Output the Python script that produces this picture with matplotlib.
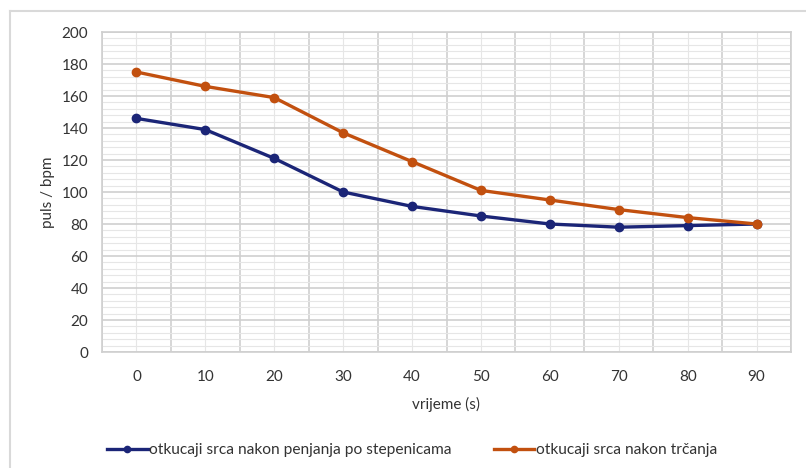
import matplotlib
matplotlib.use("Agg")
import matplotlib.pyplot as plt
from matplotlib.lines import Line2D
from matplotlib.ticker import MultipleLocator, FixedLocator

plt.rcParams['font.family'] = ['Lato', 'DejaVu Sans']

categories = ['0', '10', '20', '30', '40', '50', '60', '70', '80', '90']
stairs = [146, 139, 121, 100, 91, 85, 80, 78, 79, 80]
running = [175, 166, 159, 137, 119, 101, 95, 89, 84, 80]
labels = ['otkucaji srca nakon penjanja po stepenicama', 'otkucaji srca nakon trčanja']

W, H = 806, 468
fig = plt.figure(figsize=(W / 100, H / 100), dpi=100)
ax = fig.add_axes([102 / W, 1 - 352 / H, (791 - 102) / W, (352 - 32) / H])

x = list(range(len(categories)))
blue = '#1B2577'
orange = '#C2500F'
ax.plot(x, stairs, color=blue, lw=2.4, marker='o', ms=6, label=labels[0], zorder=3)
ax.plot(x, running, color=orange, lw=2.4, marker='o', ms=6, label=labels[1], zorder=3)

ax.set_xlim(-0.5, len(categories) - 0.5)
ax.set_ylim(0, 200)
ax.set_xticks(x)
ax.set_xticklabels(categories)
ax.yaxis.set_major_locator(MultipleLocator(20))
ax.yaxis.set_minor_locator(MultipleLocator(4))
ax.xaxis.set_minor_locator(FixedLocator([i - 0.5 for i in range(len(categories) + 1)]))

ax.grid(which='major', axis='y', color='#CFCFCF', lw=1.2)
ax.grid(which='minor', axis='y', color='#E6E6E6', lw=0.8)
ax.grid(which='minor', axis='x', color='#CFCFCF', lw=1.2)
ax.grid(which='major', axis='x', color='#E6E6E6', lw=0.8)
ax.set_axisbelow(True)

for s in ax.spines.values():
    s.set_color('#CFCFCF')
    s.set_linewidth(1.2)

ax.tick_params(which='both', length=0, labelsize=11, colors='#333333')
ax.tick_params(axis='x', pad=13)
ax.tick_params(axis='y', pad=10)

ax.set_xlabel('vrijeme (s)', fontsize=11, color='#333333', labelpad=9)
ax.set_ylabel('puls / bpm', fontsize=11, color='#333333', labelpad=5)

fig.legend(loc='center', bbox_to_anchor=(412 / W, 1 - 450 / H), ncol=2, frameon=False,
           fontsize=11.2, handlelength=2.6, handletextpad=0.1, columnspacing=2.7,
           labelcolor='#333333', markerscale=0.75)

fig.add_artist(Line2D([10 / W, 10 / W], [0, 1 - 11 / H], transform=fig.transFigure,
                      color='#D9D9D9', lw=1.5))
fig.add_artist(Line2D([10 / W, 1], [1 - 11 / H, 1 - 11 / H], transform=fig.transFigure,
                      color='#D9D9D9', lw=1.5))

fig.savefig('out.png', dpi=100)
